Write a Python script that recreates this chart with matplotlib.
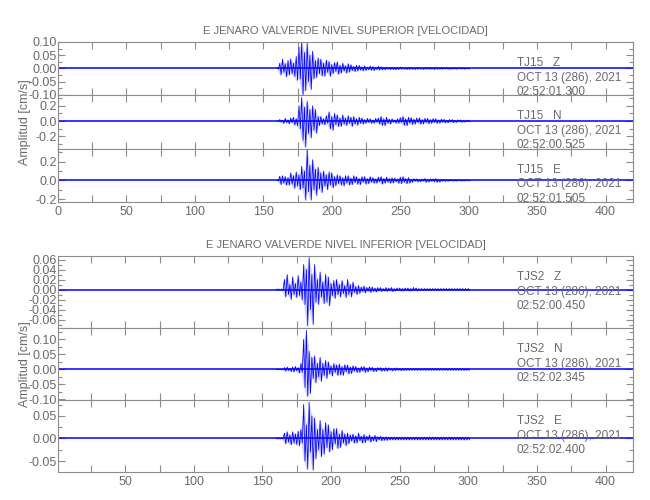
import numpy as np
import matplotlib
matplotlib.use("Agg")
import matplotlib.pyplot as plt
from matplotlib.ticker import MultipleLocator, FormatStrFormatter, FuncFormatter

plt.rcParams['font.family'] = ['Liberation Sans', 'DejaVu Sans']
plt.rcParams['axes.unicode_minus'] = False

# time of each 2 s bin of the strong-motion part (s)
t_bin = np.arange(160, 302, 2)

# per-bin max / min of each trace (cm/s)
z_sup_hi = [0.003, 0.02, 0.035, 0.018, 0.03, 0.036, 0.02, 0.045,
            0.08, 0.1, 0.06, 0.095, 0.05, 0.065, 0.03, 0.04,
            0.035, 0.02, 0.032, 0.026, 0.015, 0.022, 0.025, 0.012,
            0.02, 0.01, 0.018, 0.014, 0.008, 0.012, 0.012, 0.006,
            0.01, 0.005, 0.009, 0.007, 0.004, 0.008, 0.006, 0.004,
            0.005, 0.004, 0.005, 0.003, 0.004, 0.005, 0.003, 0.003,
            0.004, 0.004, 0.002, 0.004, 0.004, 0.003, 0.003, 0.004,
            0.003, 0.002, 0.004, 0.003, 0.003, 0.003, 0.003, 0.002,
            0.003, 0.003, 0.002, 0.003, 0.003, 0.002, 0.002]
z_sup_lo = [-0.003, -0.025, -0.015, -0.032, -0.025, -0.02, -0.03, -0.045,
            -0.04, -0.1, -0.085, -0.05, -0.08, -0.04, -0.035, -0.02,
            -0.028, -0.03, -0.015, -0.03, -0.02, -0.012, -0.022, -0.018,
            -0.01, -0.018, -0.014, -0.008, -0.012, -0.01, -0.006, -0.009,
            -0.008, -0.005, -0.007, -0.008, -0.004, -0.006, -0.005, -0.005,
            -0.003, -0.004, -0.004, -0.005, -0.004, -0.003, -0.003, -0.004,
            -0.004, -0.003, -0.004, -0.003, -0.003, -0.004, -0.003, -0.003,
            -0.003, -0.004, -0.003, -0.003, -0.003, -0.002, -0.003, -0.003,
            -0.002, -0.003, -0.002, -0.002, -0.003, -0.002, -0.002]
n_sup_hi = [0.004, 0.02, 0.01, 0.035, 0.015, 0.04, 0.05, 0.03,
            0.2, 0.31, 0.18, 0.26, 0.15, 0.2, 0.15, 0.06,
            0.06, 0.03, 0.07, 0.12, 0.06, 0.1, 0.08, 0.04,
            0.08, 0.04, 0.07, 0.05, 0.06, 0.03, 0.05, 0.04,
            0.02, 0.035, 0.03, 0.015, 0.035, 0.04, 0.06, 0.03,
            0.05, 0.025, 0.03, 0.015, 0.03, 0.045, 0.06, 0.03,
            0.05, 0.045, 0.025, 0.04, 0.042, 0.02, 0.035, 0.036,
            0.02, 0.032, 0.03, 0.015, 0.025, 0.024, 0.012, 0.02,
            0.02, 0.01, 0.016, 0.015, 0.008, 0.012, 0.01]
n_sup_lo = [-0.004, -0.012, -0.03, -0.02, -0.035, -0.02, -0.05, -0.06,
            -0.1, -0.25, -0.34, -0.16, -0.22, -0.12, -0.16, -0.06,
            -0.04, -0.05, -0.03, -0.1, -0.12, -0.05, -0.07, -0.07,
            -0.04, -0.06, -0.03, -0.07, -0.04, -0.055, -0.03, -0.04,
            -0.03, -0.02, -0.03, -0.03, -0.015, -0.04, -0.055, -0.06,
            -0.03, -0.04, -0.015, -0.028, -0.03, -0.02, -0.055, -0.06,
            -0.03, -0.045, -0.04, -0.02, -0.04, -0.038, -0.02, -0.036,
            -0.03, -0.018, -0.03, -0.028, -0.015, -0.024, -0.022, -0.012,
            -0.02, -0.018, -0.01, -0.015, -0.014, -0.008, -0.01]
e_sup_hi = [0.003, 0.045, 0.05, 0.04, 0.03, 0.08, 0.05, 0.09,
            0.06, 0.15, 0.1, 0.34, 0.16, 0.22, 0.12, 0.14,
            0.08, 0.1, 0.06, 0.09, 0.08, 0.04, 0.06, 0.05,
            0.03, 0.05, 0.05, 0.025, 0.05, 0.04, 0.02, 0.04,
            0.04, 0.02, 0.04, 0.03, 0.015, 0.035, 0.04, 0.02,
            0.035, 0.02, 0.028, 0.025, 0.015, 0.035, 0.04, 0.02,
            0.03, 0.01, 0.018, 0.016, 0.008, 0.014, 0.02, 0.01,
            0.016, 0.015, 0.02, 0.008, 0.012, 0.01, 0.006, 0.009,
            0.008, 0.005, 0.008, 0.007, 0.004, 0.006, 0.005]
e_sup_lo = [-0.003, -0.045, -0.03, -0.05, -0.05, -0.04, -0.085, -0.06,
            -0.1, -0.08, -0.21, -0.12, -0.21, -0.1, -0.16, -0.09,
            -0.13, -0.06, -0.1, -0.05, -0.08, -0.06, -0.035, -0.05,
            -0.06, -0.03, -0.05, -0.045, -0.025, -0.04, -0.045, -0.02,
            -0.04, -0.035, -0.02, -0.03, -0.03, -0.015, -0.04, -0.03,
            -0.02, -0.03, -0.028, -0.015, -0.03, -0.035, -0.02, -0.035,
            -0.03, -0.02, -0.01, -0.016, -0.015, -0.008, -0.02, -0.018,
            -0.01, -0.015, -0.02, -0.018, -0.008, -0.01, -0.01, -0.005,
            -0.008, -0.008, -0.005, -0.007, -0.006, -0.004, -0.005]
z_inf_hi = [0.001, 0.001, 0.001, 0.02, 0.03, 0.01, 0.025, 0.012,
            0.028, 0.015, 0.05, 0.04, 0.064, 0.03, 0.05, 0.02,
            0.035, 0.015, 0.03, 0.025, 0.012, 0.018, 0.02, 0.01,
            0.018, 0.008, 0.02, 0.01, 0.015, 0.006, 0.008, 0.005,
            0.007, 0.004, 0.006, 0.005, 0.003, 0.004, 0.004, 0.002,
            0.004, 0.003, 0.004, 0.002, 0.003, 0.003, 0.002, 0.003,
            0.003, 0.002, 0.004, 0.003, 0.002, 0.002, 0.002, 0.002] + [0.002] * 15
z_inf_lo = [-0.001, -0.001, -0.001, -0.015, -0.01, -0.02, -0.01, -0.016,
            -0.012, -0.02, -0.03, -0.073, -0.04, -0.07, -0.025, -0.03,
            -0.015, -0.028, -0.025, -0.033, -0.012, -0.018, -0.01, -0.015,
            -0.008, -0.016, -0.01, -0.015, -0.006, -0.01, -0.008, -0.004,
            -0.007, -0.003, -0.006, -0.004, -0.005, -0.003, -0.004, -0.003,
            -0.004, -0.002, -0.004, -0.003, -0.002, -0.003, -0.003, -0.002,
            -0.003, -0.003, -0.002, -0.003, -0.002, -0.002, -0.002, -0.002] + [-0.002] * 15
n_inf_hi = [0.001, 0.001, 0.001, 0.006, 0.008, 0.004, 0.008, 0.01,
            0.006, 0.02, 0.1, 0.13, 0.06, 0.04, 0.045, 0.02,
            0.04, 0.02, 0.03, 0.025, 0.012, 0.02, 0.015, 0.018,
            0.01, 0.016, 0.015, 0.008, 0.012, 0.01, 0.005, 0.009,
            0.01, 0.005, 0.008, 0.007, 0.004, 0.006, 0.006, 0.003,
            0.006, 0.005, 0.003, 0.004, 0.005, 0.003, 0.004, 0.003] + [0.003] * 23
n_inf_lo = [-0.001, -0.001, -0.001, -0.006, -0.004, -0.007, -0.008, -0.005,
            -0.012, -0.01, -0.06, -0.09, -0.08, -0.03, -0.045, -0.025,
            -0.04, -0.02, -0.03, -0.015, -0.022, -0.01, -0.02, -0.018,
            -0.02, -0.008, -0.015, -0.014, -0.006, -0.01, -0.01, -0.005,
            -0.01, -0.008, -0.004, -0.007, -0.007, -0.003, -0.006, -0.005,
            -0.006, -0.003, -0.005, -0.004, -0.003, -0.004, -0.004, -0.003] + [-0.003] * 23
e_inf_hi = [0.001, 0.001, 0.001, 0.012, 0.015, 0.008, 0.015, 0.01,
            0.016, 0.02, 0.075, 0.03, 0.08, 0.05, 0.045, 0.02,
            0.04, 0.02, 0.035, 0.03, 0.015, 0.022, 0.022, 0.01,
            0.018, 0.01, 0.012, 0.008, 0.01, 0.006, 0.012, 0.005,
            0.009, 0.005, 0.008, 0.004, 0.007, 0.004, 0.005, 0.003,
            0.004, 0.003, 0.003, 0.003, 0.003, 0.003, 0.003, 0.003] + [0.003] * 23
e_inf_lo = [-0.001, -0.001, -0.001, -0.012, -0.008, -0.014, -0.01, -0.013,
            -0.016, -0.01, -0.05, -0.068, -0.03, -0.07, -0.045, -0.025,
            -0.04, -0.035, -0.02, -0.03, -0.025, -0.012, -0.022, -0.02,
            -0.01, -0.016, -0.012, -0.006, -0.01, -0.01, -0.005, -0.01,
            -0.009, -0.004, -0.008, -0.005, -0.007, -0.003, -0.005, -0.004,
            -0.004, -0.003, -0.003, -0.003, -0.003, -0.003, -0.003, -0.003] + [-0.003] * 23

titles = ["E JENARO VALVERDE NIVEL SUPERIOR [VELOCIDAD]",
          "E JENARO VALVERDE NIVEL INFERIOR [VELOCIDAD]"]
stations = ["TJ15", "TJS2"]
comps = ["Z", "N", "E"]
date_str = "OCT 13 (286), 2021"
start_times = [["02:52:01.300", "02:52:00.525", "02:52:01.505"],
               ["02:52:00.450", "02:52:02.345", "02:52:02.400"]]
traces = [[(z_sup_hi, z_sup_lo), (n_sup_hi, n_sup_lo), (e_sup_hi, e_sup_lo)],
          [(z_inf_hi, z_inf_lo), (n_inf_hi, n_inf_lo), (e_inf_hi, e_inf_lo)]]

ylims = [[(-0.102, 0.10), (-0.36, 0.335), (-0.23, 0.337)],
         [(-0.077, 0.067), (-0.102, 0.138), (-0.074, 0.085)]]
ymaj = [[0.05, 0.2, 0.2], [0.02, 0.05, 0.05]]
yfmt = [["%.2f", "%.1f", "%.1f"], ["%.2f", "%.2f", "%.2f"]]
xlims = [(0, 420), (1, 420)]

gray = "#6a6a6a"
frame = "#8c8c8c"

fig = plt.figure(figsize=(6.5, 5), dpi=100)
W, H = 650.0, 500.0
left, right = 58, 633
group_tops = [42, 256]
panel_h = [160 / 3.0, 72]

for g in range(2):
    for k in range(3):
        top = group_tops[g] + k * panel_h[g]
        ax = fig.add_axes([left / W, 1 - (top + panel_h[g]) / H,
                           (right - left) / W, panel_h[g] / H])
        hi, lo = traces[g][k]
        # max at the bin start, min half a bin later -> dense wiggle
        tx = np.column_stack([t_bin, t_bin + 1]).ravel()
        ty = np.column_stack([hi, lo]).ravel()
        ax.axhline(0, color="blue", lw=1.1)
        ax.fill_between(t_bin, lo, hi, color="#a8a8ff", lw=0, alpha=0.5)
        ax.plot(tx, ty, color="blue", lw=0.55)
        ax.set_xlim(*xlims[g])
        ax.set_ylim(*ylims[g][k])
        ax.xaxis.set_major_locator(MultipleLocator(25))
        ax.yaxis.set_major_locator(MultipleLocator(ymaj[g][k]))
        ax.yaxis.set_minor_locator(MultipleLocator(ymaj[g][k] / 2))
        ax.yaxis.set_major_formatter(FormatStrFormatter(yfmt[g][k]))
        if k == 2:
            ax.xaxis.set_major_formatter(
                FuncFormatter(lambda v, p: "%d" % v if v % 50 == 0 else ""))
        else:
            ax.xaxis.set_major_formatter(FuncFormatter(lambda v, p: ""))
        ax.tick_params(axis="both", which="both", direction="in", top=True,
                       right=True, color=frame, labelcolor=gray, labelsize=9,
                       width=0.8)
        ax.tick_params(axis="both", which="major", length=5)
        ax.tick_params(axis="y", which="minor", length=3)
        ax.tick_params(axis="y", pad=1)
        ax.tick_params(axis="x", pad=3)
        for s in ax.spines.values():
            s.set_color(frame)
            s.set_linewidth(0.8)
        lines = ["%s   %s" % (stations[g], comps[k]), date_str, start_times[g][k]]
        for j, txt in enumerate(lines):
            ax.annotate(txt, xy=(0.798, 1), xycoords="axes fraction",
                        xytext=(0, -21 - 14.5 * j), textcoords="offset pixels",
                        ha="left", va="center", color=gray, fontsize=8.5)
        if k == 0:
            ax.set_title(titles[g], color=gray, fontsize=8, pad=6)
    mid = group_tops[g] + 1.5 * panel_h[g]
    fig.text(25 / W, 1 - mid / H, "Amplitud [cm/s]", rotation=90,
             ha="center", va="center", color=gray, fontsize=9)

fig.savefig("out.png", dpi=100)
